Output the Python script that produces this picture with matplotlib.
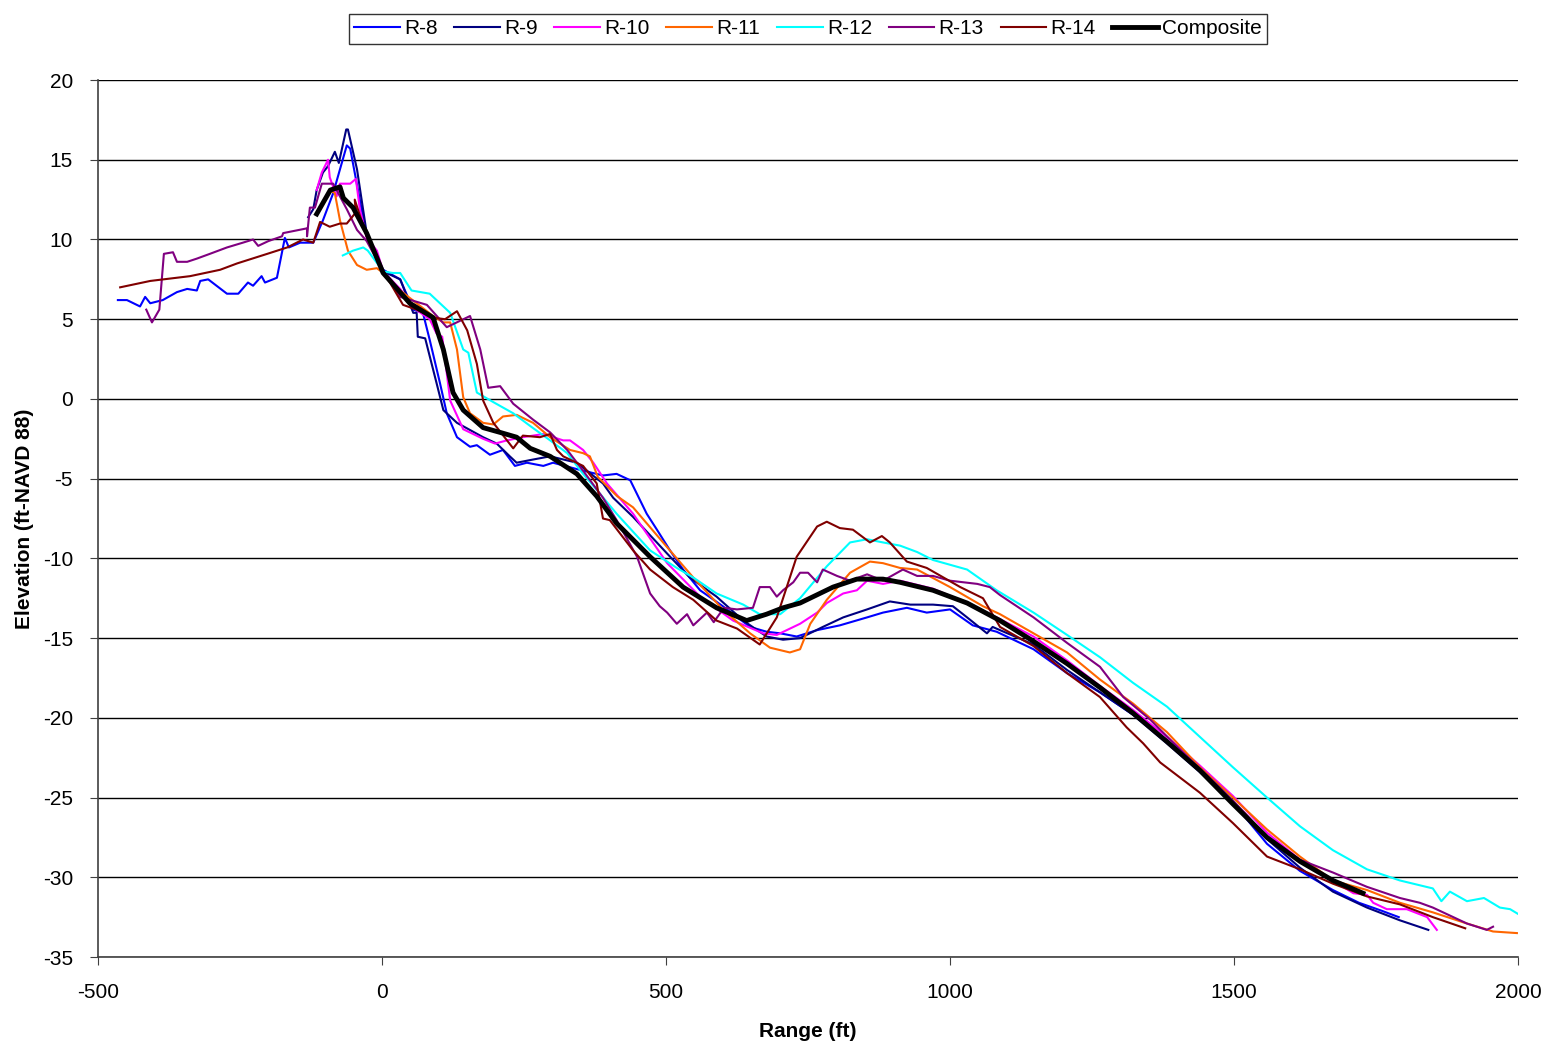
import numpy as np
import matplotlib.pyplot as plt

plt.rcParams['font.family'] = ['Liberation Sans', 'DejaVu Sans']
plt.rcParams['axes.unicode_minus'] = False

# profile data (range ft, elevation ft-NAVD 88)
r8_x = [-465, -449, -426, -417, -408, -386, -361, -343, -326, -320, -306, -273, -253, -236, -227,
        -212, -206, -185, -171, -164, -144, -121, -104, -86, -62, -56, -27, 2, 32, 55, 72, 84, 102,
        114, 132, 155, 167, 190, 213, 234, 255, 284, 301, 343, 389, 413, 437, 466, 484, 507, 530,
        560, 600, 648, 677, 701, 730, 766, 806, 854, 882, 924, 959, 1000, 1040, 1082, 1147, 1206,
        1264, 1322, 1382, 1440, 1498, 1558, 1616, 1674, 1720, 1760, 1790]
r8_y = [6.2, 6.2, 5.8, 6.4, 6.0, 6.2, 6.7, 6.9, 6.8, 7.4, 7.5, 6.6, 6.6, 7.3, 7.1,
        7.7, 7.3, 7.6, 10.1, 9.5, 9.8, 9.8, 11.2, 12.9, 15.9, 15.7, 10.2, 8.1, 7.5, 5.6, 5.4, 3.7, 1.0,
        -0.9, -2.4, -3.0, -2.9, -3.5, -3.2, -4.2, -4.0, -4.2, -4.0, -4.4, -4.8, -4.7, -5.1, -7.2, -8.2, -9.5, -10.7,
        -12.0, -13.0, -14.3, -14.6, -14.7, -14.9, -14.5, -14.2, -13.7, -13.4, -13.1, -13.4, -13.2, -14.2, -14.6, -15.7, -17.2,
        -18.4, -19.8, -21.6, -23.4, -25.3, -27.9, -29.6, -30.8, -31.6, -32.1, -32.5]

r9_x = [-130, -121, -115, -104, -95, -83, -76, -63, -60, -44, -27, 2, 32, 55, 61, 63, 76, 96, 108,
        132, 178, 202, 225, 237, 266, 296, 343, 389, 407, 442, 502, 542, 589, 636, 677, 706, 736,
        776, 812, 854, 894, 930, 970, 1005, 1030, 1065, 1075, 1088, 1147, 1206, 1264, 1322, 1382,
        1440, 1498, 1558, 1616, 1674, 1734, 1792, 1842]
r9_y = [11.4, 11.9, 13.1, 14.2, 14.6, 15.5, 14.8, 16.9, 16.9, 14.4, 10.4, 8.0, 7.5, 5.4, 5.4, 3.9, 3.8, 1.0, -0.7,
        -1.5, -2.4, -2.8, -3.6, -4.0, -3.8, -3.6, -4.0, -5.3, -6.2, -7.4, -9.7, -11.2, -12.4, -13.9, -14.9, -15.1, -15.0,
        -14.3, -13.7, -13.2, -12.7, -12.9, -12.9, -13.0, -13.7, -14.7, -14.3, -14.5, -15.4, -17.0, -18.4, -19.8, -21.4,
        -23.2, -25.2, -27.6, -29.4, -30.9, -31.9, -32.7, -33.3]

r10_x = [-115, -106, -95, -92, -80, -74, -56, -46, -39, -27, -9, 2, 32, 60, 84, 96, 106, 120, 143,
         178, 199, 220, 248, 284, 319, 331, 354, 372, 396, 442, 502, 560, 618, 671, 695, 736, 766,
         783, 812, 836, 854, 882, 912, 970, 1030, 1082, 1147, 1206, 1264, 1322, 1382, 1440, 1498,
         1558, 1616, 1674, 1710, 1734, 1745, 1769, 1804, 1840, 1857]
r10_y = [13.1, 14.2, 15.0, 13.9, 12.7, 13.5, 13.5, 13.8, 11.9, 10.1, 9.3, 8.0, 6.9, 5.6, 5.0, 4.1, 3.9, -0.1, -1.9,
         -2.5, -2.8, -2.6, -2.4, -2.2, -2.6, -2.6, -3.2, -4.0, -5.3, -7.2, -10.3, -12.4, -13.9, -14.7, -14.8, -14.1, -13.4,
         -12.8, -12.2, -12.0, -11.4, -11.6, -11.4, -11.9, -12.8, -13.7, -14.9, -16.4, -18.0, -19.5, -21.2, -23.0, -24.9,
         -27.2, -28.9, -30.2, -31.0, -31.1, -31.6, -32.0, -32.0, -32.5, -33.3]

r11_x = [-92, -83, -74, -60, -44, -27, -9, 2, 32, 90, 108, 120, 132, 143, 155, 178, 196, 213, 237,
         266, 296, 331, 354, 366, 380, 414, 442, 502, 548, 600, 648, 683, 718, 736, 754, 783, 824,
         859, 882, 912, 942, 1000, 1058, 1088, 1147, 1206, 1264, 1322, 1382, 1440, 1498, 1558, 1616,
         1674, 1734, 1792, 1850, 1910, 1956, 1998]
r11_y = [13.1, 12.9, 11.2, 9.3, 8.4, 8.1, 8.2, 7.9, 6.8, 5.2, 4.8, 4.8, 3.1, 0.1, -0.9, -1.5, -1.6, -1.1, -1.0,
         -1.5, -2.4, -3.2, -3.4, -3.6, -4.9, -6.1, -6.8, -9.3, -11.2, -13.2, -14.7, -15.6, -15.9, -15.7, -14.1, -12.6, -10.9,
         -10.2, -10.3, -10.6, -10.7, -11.8, -13.0, -13.5, -14.7, -15.9, -17.6, -19.1, -20.9, -23.1, -25.0, -27.0, -28.7,
         -30.2, -30.8, -31.6, -32.2, -32.9, -33.4, -33.5]

r12_x = [-69, -51, -33, -25, 2, 19, 32, 52, 84, 120, 143, 152, 167, 196, 231, 261, 296, 326, 354,
         378, 413, 472, 519, 548, 589, 636, 665, 701, 736, 783, 824, 854, 882, 912, 942, 970, 1030,
         1082, 1147, 1206, 1264, 1322, 1382, 1440, 1498, 1558, 1616, 1674, 1734, 1792, 1850, 1865,
         1880, 1910, 1940, 1968, 1986, 2000]
r12_y = [9.0, 9.3, 9.5, 9.3, 8.0, 7.9, 7.9, 6.8, 6.6, 5.4, 3.1, 2.9, 0.4, -0.2, -0.9, -1.7, -2.6, -3.4, -4.7,
         -5.7, -7.2, -9.5, -10.6, -11.2, -12.2, -12.9, -13.5, -13.5, -12.5, -10.5, -9.0, -8.8, -9.0, -9.2, -9.6, -10.1, -10.7,
         -12.0, -13.4, -14.8, -16.2, -17.8, -19.3, -21.2, -23.1, -25.0, -26.8, -28.3, -29.5, -30.2, -30.7, -31.5,
         -30.9, -31.5, -31.3, -31.9, -32.0, -32.3]

r13_x = [-415, -405, -392, -384, -368, -361, -343, -326, -303, -273, -245, -227, -218, -200, -176,
         -174, -132, -132, -127, -118, -106, -86, -77, -62, -44, -27, 2, 32, 79, 114, 155, 173, 187,
         208, 231, 266, 296, 326, 354, 389, 413, 449, 472, 489, 502, 519, 537, 548, 572, 584, 602,
         625, 653, 665, 683, 695, 706, 724, 736, 750, 766, 776, 801, 824, 854, 882, 917, 942, 970,
         1000, 1048, 1070, 1088, 1147, 1206, 1264, 1305, 1352, 1411, 1470, 1520, 1558, 1616, 1674,
         1734, 1792, 1827, 1850, 1910, 1945, 1956]
r13_y = [5.6, 4.8, 5.6, 9.1, 9.2, 8.6, 8.6, 8.8, 9.1, 9.5, 9.8, 10.0, 9.6, 9.9, 10.2,
         10.4, 10.7, 10.2, 12.0, 12.0, 13.5, 13.5, 12.9, 11.9, 10.6, 9.9, 8.0, 6.4, 5.9, 4.5, 5.2, 3.1, 0.7,
         0.8, -0.3, -1.3, -2.1, -3.2, -4.5, -6.2, -7.6, -9.9, -12.2, -13.0, -13.4, -14.1, -13.5, -14.2, -13.4, -14.0, -13.1,
         -13.2, -13.1, -11.8, -11.8, -12.4, -12.0, -11.5, -10.9, -10.9, -11.5, -10.7, -11.1, -11.4, -11.0, -11.4, -10.7, -11.1, -11.1,
         -11.4, -11.6, -11.8, -12.3, -13.7, -15.3, -16.8, -18.7, -20.1, -22.2, -24.2, -26.0, -27.5, -28.9, -29.7,
         -30.6, -31.3, -31.6, -31.9, -32.9, -33.3, -33.1]

r14_x = [-461, -408, -338, -285, -255, -202, -167, -139, -121, -109, -92, -74, -62, -46, -48, -27,
         2, 14, 37, 61, 90, 111, 132, 150, 167, 178, 196, 231, 248, 278, 296, 308, 319, 354, 378,
         389, 401, 442, 472, 512, 548, 589, 625, 665, 695, 730, 766, 783, 806, 829, 859, 880, 894,
         924, 959, 1018, 1058, 1088, 1147, 1206, 1264, 1311, 1340, 1370, 1440, 1498, 1558, 1616,
         1674, 1734, 1792, 1850, 1907]
r14_y = [7.0, 7.4, 7.7, 8.1, 8.5, 9.1, 9.5, 10.0, 9.8, 11.1, 10.8, 11.0, 11.0, 11.7, 12.5, 10.2,
         7.9, 7.3, 5.9, 5.6, 5.1, 5.0, 5.5, 4.3, 2.2, -0.1, -1.5, -3.1, -2.3, -2.4, -2.2, -3.2, -3.6, -4.2, -5.3,
         -7.5, -7.6, -9.5, -10.7, -11.8, -12.6, -13.9, -14.4, -15.4, -13.7, -9.9, -8.0, -7.7, -8.1, -8.2, -9.0, -8.6, -9.0,
         -10.2, -10.6, -11.8, -12.5, -14.3, -15.5, -17.2, -18.7, -20.6, -21.6, -22.8, -24.7, -26.6, -28.7, -29.5,
         -30.4, -31.2, -31.7, -32.5, -33.2]

comp_x = [-115, -91, -74, -68, -51, -27, 2, 49, 90, 108, 125, 143, 178, 208, 237, 261, 296, 343,
          378, 413, 472, 530, 589, 642, 677, 706, 736, 794, 836, 882, 912, 970, 1030, 1088, 1147,
          1206, 1264, 1322, 1382, 1440, 1498, 1558, 1616, 1674, 1727]
comp_y = [11.6, 13.1, 13.3, 12.6, 12.0, 10.4, 7.9, 6.0, 5.1, 3.1, 0.4, -0.7, -1.8, -2.1, -2.4, -3.1, -3.6, -4.7,
          -6.1, -7.8, -9.9, -11.8, -13.1, -13.9, -13.5, -13.1, -12.8, -11.8, -11.3, -11.3, -11.5, -12.0, -12.8, -13.9, -15.2,
          -16.6, -18.1, -19.7, -21.5, -23.3, -25.4, -27.5, -29.0, -30.2, -31.0]

series = [
    ('R-8', r8_x, r8_y, '#0000FF'),
    ('R-9', r9_x, r9_y, '#000080'),
    ('R-10', r10_x, r10_y, '#FF00FF'),
    ('R-11', r11_x, r11_y, '#FF6600'),
    ('R-12', r12_x, r12_y, '#00FFFF'),
    ('R-13', r13_x, r13_y, '#800080'),
    ('R-14', r14_x, r14_y, '#800000'),
]

fig = plt.figure(figsize=(15.53, 10.49), dpi=100)
ax = fig.add_axes([0.0631, 0.0877, 0.9144, 0.836])

for name, xs, ys, col in series:
    ax.plot(xs, ys, c=col, lw=1.5, label=name)
ax.plot(comp_x, comp_y, c='black', lw=3.5, label='Composite')

ax.set_xlim(-500, 2000)
ax.set_ylim(-35, 20)
ax.set_xticks(np.arange(-500, 2001, 500))
ax.set_yticks(np.arange(-35, 21, 5))
ax.yaxis.grid(True, color='black', lw=1)
ax.set_axisbelow(True)
for s in ['top', 'right']:
    ax.spines[s].set_visible(False)
for s in ['left', 'bottom']:
    ax.spines[s].set_color('#404040')
    ax.spines[s].set_linewidth(1.2)
ax.tick_params(direction='out', length=6, color='#404040', labelsize=15)
ax.tick_params(axis='x', pad=13)
ax.tick_params(axis='y', pad=12)

ax.set_xlabel('Range (ft)', fontsize=15, fontweight='bold', labelpad=14)
ax.set_ylabel('Elevation (ft-NAVD 88)', fontsize=15, fontweight='bold', labelpad=6)

leg = ax.legend(loc='upper center', bbox_to_anchor=(0.5, 1.087), ncol=8, fontsize=15,
                frameon=True, fancybox=False, edgecolor='black', handlelength=2.2,
                handletextpad=0.2, columnspacing=0.8, borderpad=0.25)
leg.get_frame().set_linewidth(1)

fig.savefig('out.png', dpi=100)
